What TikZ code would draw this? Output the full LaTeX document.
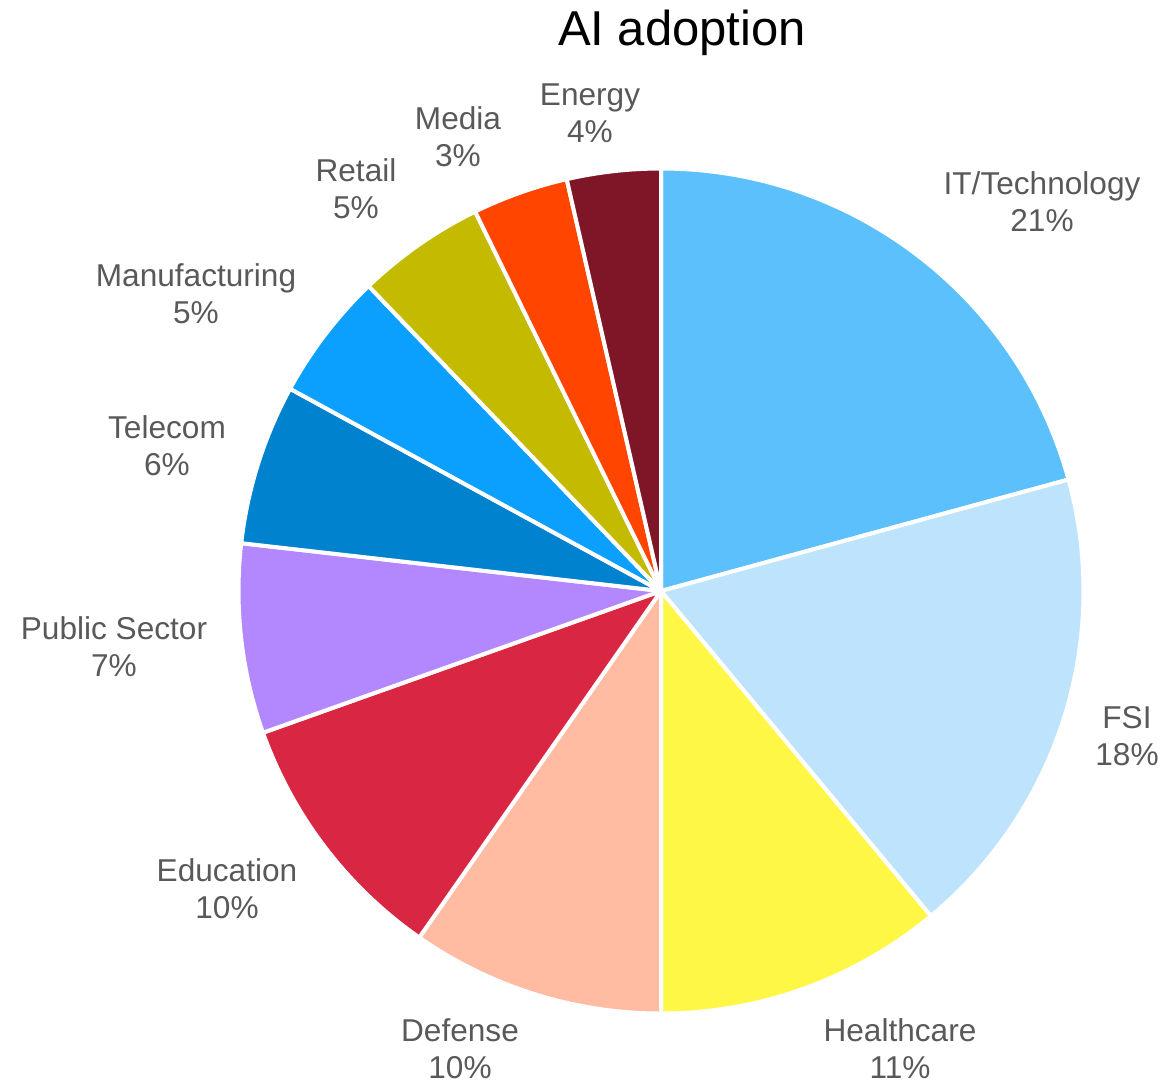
\documentclass[tikz,border=0pt]{standalone}
\usepackage{fontspec}
\setmainfont{Liberation Sans}
\definecolor{labelgray}{HTML}{595959}
\definecolor{ittech}{HTML}{5BC0FC}
\definecolor{fsi}{HTML}{BDE4FC}
\definecolor{health}{HTML}{FFF745}
\definecolor{defense}{HTML}{FFBCA2}
\definecolor{educ}{HTML}{D92643}
\definecolor{public}{HTML}{B388FF}
\definecolor{telecom}{HTML}{0082CE}
\definecolor{manuf}{HTML}{0BA0FE}
\definecolor{retail}{HTML}{C4BA00}
\definecolor{media}{HTML}{FF4500}
\definecolor{energy}{HTML}{7E1628}
\tikzset{
  slice/.style={draw=white,line width=4pt,line join=round},
  pielabel/.style={text=labelgray,align=center,font=\fontsize{31.6}{37}\selectfont}
}

\begin{document}
\begin{tikzpicture}[x=1pt,y=1pt]
  \useasboundingbox (0,0) rectangle (1173,-1085);
  \coordinate (o) at (661,-591);
  %
  \foreach \a/\b/\c in {90/15.3/ittech,15.3/-50.3/fsi,-50.3/-90/health,
      -90/-124.9/defense,-124.9/-160.4/educ,-160.4/-186.5/public,
      -186.5/-208.6/telecom,-208.6/-226.2/manuf,-226.2/-243.9/retail,
      -243.9/-257.1/media,-257.1/-270/energy}{
    \filldraw[slice,fill=\c] (o) -- ++(\a:422.5pt) arc (\a:\b:422.5pt) -- cycle;
  }
  %
  \node[font=\fontsize{49}{58}\selectfont,anchor=base] (title) at (682,-45) {AI adoption};
  %
  \node[pielabel] (ittechlbl) at (1042,-201.5) {IT/Technology\\21\%};
  \node[pielabel] (fsilbl) at (1127,-736) {FSI\\18\%};
  \node[pielabel] (healthlbl) at (900,-1049) {Healthcare\\11\%};
  \node[pielabel] (defenselbl) at (460,-1049) {Defense\\10\%};
  \node[pielabel] (educlbl) at (227,-889) {Education\\10\%};
  \node[pielabel] (publiclbl) at (114,-647) {Public Sector\\7\%};
  \node[pielabel] (telecomlbl) at (167,-446) {Telecom\\6\%};
  \node[pielabel] (manuflbl) at (196,-294) {Manufacturing\\5\%};
  \node[pielabel] (retaillbl) at (356,-189) {Retail\\5\%};
  \node[pielabel] (medialbl) at (458,-137) {Media\\3\%};
  \node[pielabel] (energylbl) at (590,-113) {Energy\\4\%};
\end{tikzpicture}
\end{document}
